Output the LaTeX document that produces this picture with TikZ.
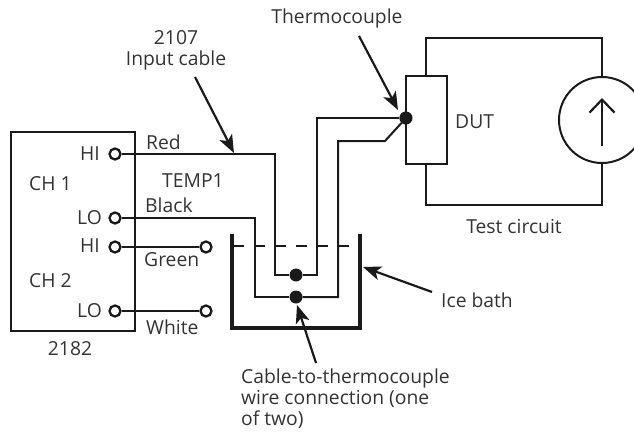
\documentclass[tikz,border=0pt]{standalone}
\usepackage{fontspec}
\setmainfont{Open Sans}
\usetikzlibrary{arrows.meta}
\definecolor{txtgray}{HTML}{333333}
\definecolor{linegray}{HTML}{1A1A1A}
\tikzset{
	wire/.style={draw=linegray,line width=2pt},
	bathline/.style={draw=linegray,line width=3.4pt},
	pointer/.style={draw=linegray,line width=2.2pt,-{Stealth[length=18pt,width=14pt,inset=4.5pt]}},
	terminal/.style={draw=linegray,circle,fill=white,line width=2.3pt,minimum size=11pt,inner sep=0pt},
	joint/.style={circle,fill=linegray,minimum size=13pt,inner sep=0pt},
	lbl/.style={inner sep=0pt,text=txtgray,font=\fontsize{19.3}{21}\selectfont,align=left}
}
\begin{document}
\begin{tikzpicture}[x=1pt,y=-1pt]
	\useasboundingbox (0,0) rectangle (634,431);
	% instrument
	\node[draw=linegray,line width=2.2pt,minimum width=124pt,minimum height=199pt,inner sep=0pt] (v2182) at (73,231.5) {};
	% terminals
	\node[terminal] (t1) at (115,154) {};
	\node[terminal] (t2) at (115,218) {};
	\node[terminal] (t3) at (115,247) {};
	\node[terminal] (t4) at (115,311) {};
	\node[terminal] (t5) at (206,247) {};
	\node[terminal] (t6) at (206,311) {};
	% joints
	\node[joint] (j1) at (296,275) {};
	\node[joint] (j2) at (296,297) {};
	\node[joint] (j3) at (406,118) {};
	% corners of the wires
	\coordinate (c1) at (275,154);
	\coordinate (c2) at (275,275);
	\coordinate (c3) at (317,275);
	\coordinate (c4) at (317,118);
	\coordinate (c5) at (255,218);
	\coordinate (c6) at (255,297);
	\coordinate (c7) at (338,297);
	\coordinate (c8) at (338,141);
	\coordinate (c9) at (385,141);
	\draw[wire] (t1) -- (c1) -- (c2) -- (j1);
	\draw[wire] (j1) -- (c3) -- (c4) -- (j3);
	\draw[wire] (t2) -- (c5) -- (c6) -- (j2);
	\draw[wire] (j2) -- (c7) -- (c8) -- (c9) -- (j3);
	\draw[wire] (t3) -- (t5);
	\draw[wire] (t4) -- (t6);
	% ice bath
	\coordinate (b1) at (232,234);
	\coordinate (b2) at (232,328);
	\coordinate (b3) at (360,328);
	\coordinate (b4) at (360,234);
	\coordinate (w1) at (233,246);
	\coordinate (w2) at (352,246);
	\draw[bathline] (b1) -- (b2) -- (b3) -- (b4);
	\draw[wire,line width=2.4pt,dash pattern=on 11pt off 10pt] (w1) -- (w2);
	% test circuit
	\node[draw=linegray,line width=2.2pt,minimum width=41pt,minimum height=88pt,inner sep=0pt,fill=white] (dut) at (426.5,120) {};
	\node[draw=linegray,circle,line width=2pt,minimum size=86pt,inner sep=0pt] (src) at (602,120) {};
	\coordinate (d1) at (426,38);
	\coordinate (d2) at (602,38);
	\coordinate (d3) at (426,205);
	\coordinate (d4) at (602,205);
	\coordinate (s1) at (602,146);
	\coordinate (s2) at (602,98);
	\draw[wire] (dut.north -| d1) -- (d1) -- (d2) -- (src.north);
	\draw[wire] (dut.south -| d3) -- (d3) -- (d4) -- (src.south);
	\draw[wire,line width=2.2pt,-{Straight Barb[length=13pt,width=25pt,line width=2.2pt]}] (s1) -- (s2);
	\node[joint] at (j3) {};
	% pointers
	\def\list {195/77/234/153, 359/36/398/110, 432/292/363/267, 316/363/297/305}
	\foreach \xa/\ya/\xb/\yb [count=\i] in \list
	{	\coordinate (p\i) at (\xa,\ya);
		\coordinate (q\i) at (\xb,\yb);
		\draw[pointer] (p\i) -- (q\i);
	}
	% labels, left edge given
	\def\names {l1/146/142/Red, l2/162/181/TEMP1, l3/145/205/Black, l4/144/260/Green, l5/146/327/White, l6/29/184/CH 1, l7/29/281/CH 2, l8/455/122/DUT, l9/441/300/Ice bath}
	\foreach \n/\x/\y/\txt in \names
	{	\node[lbl,anchor=west] (\n) at (\x,\y) {\txt};
	}
	% labels, right edge given
	\def\ports {m1/100/154/HI, m2/102/218/LO, m3/100/246/HI, m4/102/311/LO}
	\foreach \n/\x/\y/\txt in \ports
	{	\node[lbl,anchor=east] (\n) at (\x,\y) {\txt};
	}
	\node[lbl,align=center] (n1) at (176,50) {2107\\Input cable};
	\node[lbl] (n2) at (337,18) {Thermocouple};
	\node[lbl] (n3) at (70,349) {2182};
	\node[lbl] (n4) at (514,227) {Test circuit};
	\node[lbl,anchor=north west] (n5) at (241,369) {Cable-to-thermocouple\\wire connection (one\\of two)};
\end{tikzpicture}
\end{document}
